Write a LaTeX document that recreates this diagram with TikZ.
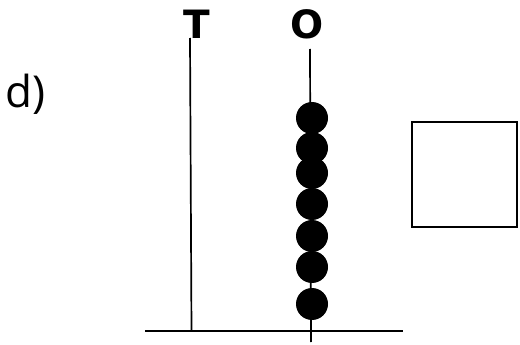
\documentclass[tikz,border=0pt]{standalone}
\usepackage{fontspec}
\usepackage{tikz}
\usetikzlibrary{positioning}
\newfontfamily\labelfont{Open Sans}
\newfontfamily\polefont{DejaVu Sans}[BoldFont={DejaVu Sans Bold}]
\begin{document}
\begin{tikzpicture}[x=1pt, y=-1pt, line width=1.7pt,
  polelabel/.style={font=\polefont\bfseries\fontsize{39}{39}\selectfont, inner sep=0pt},
  bead/.style={circle, fill=black, inner sep=0pt, minimum size=32pt}]
  \useasboundingbox (0,0) rectangle (520,345);
  % Part label
  \node[font=\labelfont\fontsize{44}{44}\selectfont, anchor=base west, inner sep=0pt] (part) at (5,108) {d)};
  % Ground line
  \coordinate (groundL) at (145,331);
  \coordinate (groundR) at (403,331);
  \draw (groundL) -- (groundR);
  % Pole T
  \coordinate (Ttop) at (190,38);
  \coordinate (Tbot) at (191.5,331);
  \draw (Ttop) -- (Tbot);
  \node[polelabel] (Tlabel) at (197,24) {T};
  % Pole O with its beads
  \coordinate (Otop) at (310,49);
  \coordinate (Obot) at (311,342);
  \draw (Otop) -- (Obot);
  \node[polelabel] (Olabel) at (307,24) {O};
  \foreach \y [count=\i] in {118, 148, 173, 204, 236, 267, 304} {
    \node[bead] (bead\i) at (312,\y) {};
  }
  % Empty box
  \draw (412,122) rectangle (517,227);
\end{tikzpicture}
\end{document}
